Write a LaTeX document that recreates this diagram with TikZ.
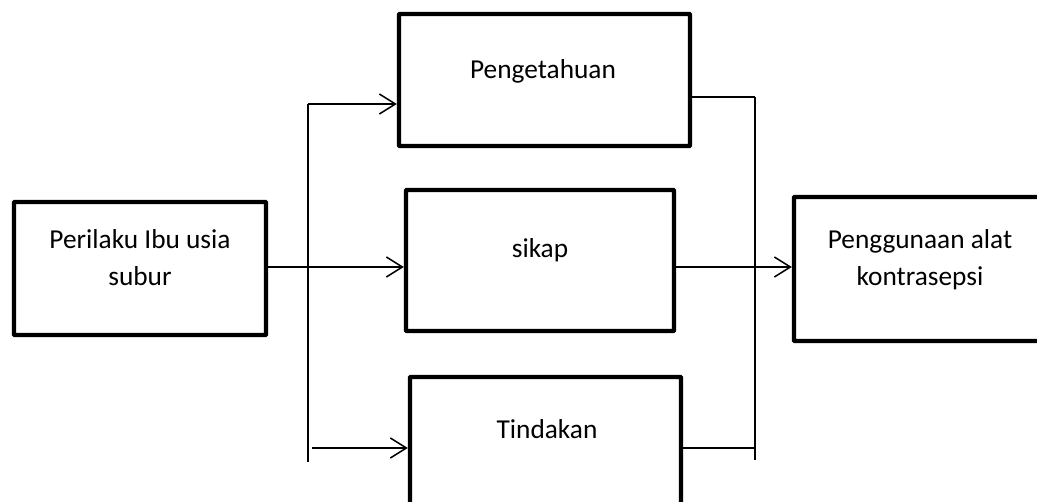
\documentclass[tikz,border=0pt]{standalone}
\usepackage{fontspec}
\setmainfont{Carlito}
\usetikzlibrary{arrows.meta,fit}
\begin{document}
\begin{tikzpicture}[x=0.75pt,y=-0.75pt,
  box/.style={draw=black,line width=3.3pt,inner sep=0pt,rounded corners=0.6pt},
  lbl/.style={anchor=base,inner sep=0pt,align=center,font=\fontsize{20.5}{27.75}\selectfont},
  wire/.style={draw=black,line width=1.15pt},
  arr/.style={wire,-{Straight Barb[length=12pt,width=15pt,line width=1.15pt]}}]
\useasboundingbox (0,0) rectangle (1037,502);
\clip (0,0) rectangle (1037,502);
% boxes
\node[box,fit={(14,202) (266,335)}] (A) {};
\node[box,fit={(399,14) (690,146)}] (P) {};
\node[box,fit={(406,190) (674,331)}] (S) {};
\node[box,fit={(410,377) (681,520)}] (T) {};
\node[box,fit={(794,197) (1050,341)}] (R) {};
% texts
\node[lbl] (tA) at (140,285) {Perilaku Ibu usia\\subur};
\node[lbl] (tP) at (543,79) {Pengetahuan};
\node[lbl] (tS) at (540,257) {sikap};
\node[lbl] (tT) at (547,438) {Tindakan};
\node[lbl] (tR) at (920,285) {Penggunaan alat\\kontrasepsi};
% junction coordinates
\coordinate (L1) at (308,104);
\coordinate (L2) at (308,462);
\coordinate (L3) at (312,448);
\coordinate (M1) at (755,97);
\coordinate (M2) at (755,460);
% connectors
\draw[arr] (A.east |- 0,267) -- (S.west |- 0,267);
\draw[wire] (L1) -- (L2);
\draw[arr] (L1) -- (P.west |- L1);
\draw[arr] (L3) -- (T.west |- L3);
\draw[wire] (P.east |- M1) -- (M1);
\draw[wire] (M1) -- (M2);
\draw[wire] (T.east |- 0,448) -- (M1 |- 0,448);
\draw[arr] (S.east |- 0,267) -- (R.west |- 0,267);
\end{tikzpicture}
\end{document}
